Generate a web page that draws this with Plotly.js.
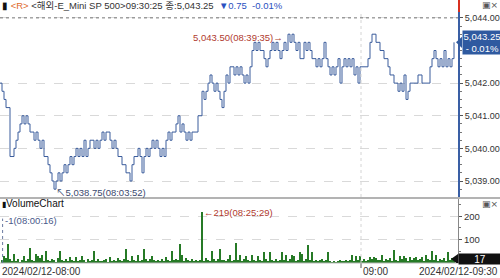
<!DOCTYPE html>
<html><head><meta charset="utf-8">
<script src="https://cdn.plot.ly/plotly-3.0.1.min.js"></script>
<style>html,body{margin:0;padding:0;background:#fff;}#chart{width:500px;height:278px;}</style>
</head><body><div id="chart"></div>
<script>
// ---- data ----
const price = [
5042.0,5041.75,5041.5,5041.25,5041.25,5039.75,5039.75,5040.0,5040.25,5040.5,
5040.75,5041.0,5040.75,5041.0,5040.75,5040.5,5040.5,5040.25,5040.5,5040.25,
5040.0,5040.25,5039.75,5039.75,5039.5,5039.25,5039.0,5038.75,5039.0,5039.25,
5039.0,5039.25,5039.5,5039.25,5039.5,5039.75,5039.5,5039.75,5040.0,5039.75,
5040.0,5039.75,5040.25,5039.75,5040.0,5040.25,5040.25,5040.0,5040.25,5040.0,
5040.25,5040.5,5040.25,5040.5,5040.5,5040.25,5040.0,5040.25,5040.0,5039.75,
5039.75,5039.5,5039.5,5039.25,5039.25,5039.0,5039.5,5039.75,5039.75,5040.0,
5039.75,5039.25,5039.75,5040.0,5039.75,5040.0,5040.25,5040.0,5040.25,5040.0,
5039.75,5040.0,5039.75,5040.25,5040.5,5040.25,5040.5,5040.5,5040.75,5041.0,
5040.5,5040.75,5040.5,5040.25,5040.5,5040.25,5040.5,5040.5,5040.5,5041.0,
5041.0,5041.75,5041.5,5041.75,5042.0,5042.25,5042.0,5041.75,5042.0,5041.75,
5041.5,5041.25,5041.75,5042.25,5042.0,5042.5,5042.5,5042.25,5042.5,5042.25,
5042.5,5042.25,5042.0,5042.25,5042.0,5042.5,5043.0,5043.25,5043.0,5043.25,
5043.0,5043.0,5042.75,5042.5,5042.75,5043.0,5043.25,5043.0,5043.25,5043.0,
5042.75,5043.0,5043.25,5043.0,5043.5,5043.25,5043.5,5043.25,5043.0,5043.25,
5042.75,5042.75,5043.25,5043.0,5043.25,5043.0,5042.75,5042.75,5042.5,5042.75,
5042.5,5042.75,5043.25,5042.75,5042.5,5042.25,5042.5,5042.25,5042.5,5042.75,
5042.0,5042.5,5042.75,5042.5,5042.75,5042.5,5042.75,5042.25,5042.5,5042.0,
5042.5,5042.5,5042.5,5042.5,5042.75,5043.25,5043.5,5043.5,5043.25,5043.25,
5043.0,5043.0,5042.75,5042.75,5042.5,5042.25,5042.25,5042.0,5042.0,5041.75,
5042.0,5041.75,5042.25,5041.5,5041.75,5042.0,5042.0,5042.0,5042.0,5042.25,
5042.25,5042.0,5042.0,5042.0,5042.0,5042.5,5042.75,5043.0,5042.75,5042.5,
5042.75,5042.5,5043.0,5042.5,5042.75,5042.5,5042.75,5043.25
];
const volume = [
1,12,30,20,83,15,8,37,10,18,6,14,30,9,16,65,12,7,40,30,
22,35,10,50,14,8,18,11,6,20,50,12,9,15,7,25,13,10,25,8,
14,30,11,6,17,9,12,50,8,15,10,7,13,18,6,25,10,14,8,20,
12,9,16,58,11,7,30,14,10,35,8,12,62,15,9,18,30,11,7,14,
10,16,8,25,12,9,50,14,18,11,83,35,10,20,13,7,15,9,12,8,
14,219,10,20,12,8,50,15,9,18,58,11,14,7,16,35,10,13,87,12,
35,9,15,30,11,8,35,14,10,30,12,7,45,16,9,48,13,10,18,8,
14,45,11,35,9,15,35,28,10,13,45,40,8,16,78,12,45,9,14,7,
11,16,8,13,45,10,6,9,5,8,11,7,10,12,8,14,35,9,28,12,
28,10,15,8,13,25,18,25,22,11,14,35,9,16,12,20,10,57,13,8,
30,15,30,22,10,25,14,20,25,12,18,25,9,35,15,11,53,13,35,10,
16,12,20,9,47,14,20,17
];
const priceTicks = [5039, 5040, 5041, 5042, 5044];
const volumeTicks = [100, 200];
const tickLabels = ["2024/02/12-08:00", "09:00", "2024/02/12-09:30"];
const tickIndex = [0, 180.5, 229];
const highLabel = "5,043.50(08:39:35)→";
const lowLabel = "↖5,038.75(08:03:52)";
const volMaxLabel = "←219(08:25:29)";
const volFirstLabel = "-1(08:00:16)";
const lastPrice = 5043.25;
const lastChangePct = "- 0.01%";
const headerParts = ["▮", "<R>", " <해외-E_Mini SP 500>09:30:25 종:5,043.25", "  ▼0.75  -0.01%"];

// ---- chart ----
const idx = price.map((_, i) => i);
const hiI = price.indexOf(Math.max(...price));
const loI = price.indexOf(Math.min(...price));
const vmI = volume.indexOf(Math.max(...volume));
const F = "Liberation Sans, Noto Sans CJK KR, sans-serif";
const plotW = 458;
const px = p => 1 + p / plotW; // paper x beyond right edge
const esc = s => s.replace(/</g, '&lt;').replace(/>/g, '&gt;');
const lastVol = volume[volume.length - 1];

const traces = [
  {type: 'scatter', mode: 'lines', x: idx, y: price, xaxis: 'x', yaxis: 'y',
   line: {color: '#3a5c9c', width: 1, shape: 'hv'}, hoverinfo: 'skip'},
  {type: 'bar', x: idx, y: volume, xaxis: 'x', yaxis: 'y2', width: 0.55,
   marker: {color: '#267a26', line: {width: 0}}, hoverinfo: 'skip'}
];

const layout = {
  width: 500, height: 278,
  margin: {l: 0, r: 42, t: 12, b: 15},
  paper_bgcolor: '#fff', plot_bgcolor: '#fff',
  showlegend: false, bargap: 0,
  font: {family: F, size: 10, color: '#333'},
  xaxis: {range: [0, 229], anchor: 'y2', showticklabels: false, showgrid: false,
          zeroline: false, showline: false, ticks: '', fixedrange: true},
  yaxis: {domain: [0.263, 1], range: [5038.51, 5044.18], side: 'right', anchor: 'x',
          tickvals: priceTicks, tickformat: ',.2f',
          ticks: 'outside', ticklen: 3, tickcolor: '#555', tickfont: {size: 9, color: '#333', family: F},
          showline: true, linecolor: '#3a5fa5', linewidth: 2,
          showgrid: true, gridcolor: '#d9d9d9', griddash: 'dash', gridwidth: 1, zeroline: false,
          minor: {dtick: 0.25, ticklen: 2, tickcolor: '#777', ticks: 'outside', showgrid: false}},
  yaxis2: {domain: [0, 0.255], range: [0, 274], side: 'right', anchor: 'x',
           tickvals: volumeTicks, ticks: 'outside', ticklen: 3, tickcolor: '#555',
           tickfont: {size: 9.5, color: '#333', family: F},
           showline: true, linecolor: '#888', linewidth: 1,
           showgrid: true, gridcolor: '#d9d9d9', griddash: 'dash', zeroline: false,
           minor: {dtick: 50, ticklen: 2, tickcolor: '#777', ticks: 'outside', showgrid: false}},
  shapes: [
    {type: 'line', xref: 'paper', yref: 'y', x0: 0, x1: 1, y0: 5044, y1: 5044,
     line: {color: '#777', width: 1, dash: 'dot'}},
    {type: 'line', xref: 'x', yref: 'paper', x0: tickIndex[1], x1: tickIndex[1], y0: 0, y1: 1,
     line: {color: '#d4d4d4', width: 1, dash: 'dot'}},
    {type: 'line', xref: 'x', yref: 'paper', x0: tickIndex[1], x1: tickIndex[1], y0: 0, y1: -0.02,
     line: {color: '#555', width: 1}},
    {type: 'line', xref: 'paper', yref: 'paper', x0: 0, x1: px(42), y0: 0.259, y1: 0.259,
     line: {color: '#9a9a9a', width: 1.5}},
    {type: 'line', xref: 'paper', yref: 'paper', x0: 0, x1: 1, y0: 0, y1: 0,
     line: {color: '#bbb', width: 1}},
    {type: 'line', xref: 'paper', yref: 'paper', x0: px(1), x1: px(1), y0: 1, y1: 1 + 12 / 251,
     line: {color: '#d83020', width: 2}},
    {type: 'line', xref: 'x', yref: 'y2', x0: 1.3, x1: 1.3, y0: 0, y1: 190,
     line: {color: '#6a7aa0', width: 1, dash: 'dot'}},
    {type: 'path', xref: 'paper', yref: 'y',
     path: `M ${px(-2)},${lastPrice} L ${px(4)},${lastPrice + 0.17} L ${px(4)},${lastPrice - 0.17} Z`,
     fillcolor: '#2f5aa0', line: {width: 0}},
    {type: 'path', xref: 'paper', yref: 'y2',
     path: `M ${px(-7)},${lastVol} L ${px(0)},${lastVol + 22} L ${px(0)},${lastVol - 22} Z`,
     fillcolor: '#111', line: {width: 0}}
  ],
  annotations: [
    {xref: 'paper', yref: 'paper', x: 0, y: 1 + 7 / 251, xanchor: 'left', yanchor: 'middle', showarrow: false,
     font: {size: 9.5, family: F, color: '#333'},
     text: `<span style="color:#111">${headerParts[0]}</span> <span style="color:#e06a2a">${esc(headerParts[1])}</span>${esc(headerParts[2])}<span style="color:#2a50c0">${headerParts[3]}</span>`},
    {xref: 'paper', yref: 'paper', x: px(42), y: 1 + 7 / 251, xanchor: 'right', yanchor: 'middle', showarrow: false,
     font: {size: 9, color: '#555', family: 'DejaVu Sans'}, text: '▣×'},
    {xref: 'paper', yref: 'paper', x: px(42), y: 0.235, xanchor: 'right', yanchor: 'middle', showarrow: false,
     font: {size: 9, color: '#555', family: 'DejaVu Sans'}, text: '▣×'},
    {xref: 'paper', yref: 'paper', x: 0, y: 0.237, xanchor: 'left', yanchor: 'middle', showarrow: false,
     font: {size: 10, color: '#111', family: F}, text: '<span style="font-size:8px">▮</span>VolumeChart'},
    {xref: 'x', yref: 'y', x: hiI, y: price[hiI], xanchor: 'right', yanchor: 'middle', xshift: -3, yshift: -3,
     showarrow: false, font: {size: 9.5, color: '#b03a2e', family: F}, text: highLabel},
    {xref: 'x', yref: 'y', x: loI, y: price[loI], xanchor: 'left', yanchor: 'middle', xshift: 0, yshift: -3,
     showarrow: false, font: {size: 9.5, color: '#3c4a6e', family: F}, text: lowLabel},
    {xref: 'x', yref: 'y2', x: vmI, y: volume[vmI], xanchor: 'left', yanchor: 'middle', xshift: 0, yshift: -1,
     showarrow: false, font: {size: 9.5, color: '#b03a2e', family: F}, text: volMaxLabel},
    {xref: 'x', yref: 'y2', x: 0, y: 184, xanchor: 'left', yanchor: 'middle', xshift: 3,
     showarrow: false, font: {size: 9.5, color: '#4a5a8a', family: F}, text: volFirstLabel},
    {xref: 'paper', yref: 'y', x: px(4), y: lastPrice, xanchor: 'left', yanchor: 'middle', showarrow: false,
     bgcolor: '#2f5aa0', width: 38, borderpad: 0, align: 'center',
     font: {size: 9.5, color: '#fff', family: F}, text: `${lastPrice.toLocaleString('en-US', {minimumFractionDigits: 2})}<br>${lastChangePct}`},
    {xref: 'paper', yref: 'y2', x: px(0), y: lastVol, xanchor: 'left', yanchor: 'middle', showarrow: false,
     bgcolor: '#111', width: 42, height: 10, borderpad: 0, align: 'center',
     font: {size: 10, color: '#fff', family: F}, text: String(lastVol)},
    {xref: 'x', yref: 'paper', x: tickIndex[0], y: 0, xanchor: 'left', yanchor: 'top', yshift: -1, showarrow: false,
     font: {size: 10, color: '#333', family: F}, text: tickLabels[0]},
    {xref: 'x', yref: 'paper', x: tickIndex[1], y: 0, xanchor: 'left', yanchor: 'top', yshift: -1, showarrow: false,
     font: {size: 10, color: '#333', family: F}, text: tickLabels[1]},
    {xref: 'paper', yref: 'paper', x: px(42), y: 0, xanchor: 'right', yanchor: 'top', yshift: -1, showarrow: false,
     font: {size: 10, color: '#333', family: F}, text: tickLabels[2]}
  ]
};

Plotly.newPlot('chart', traces, layout, {staticPlot: true, displayModeBar: false});
</script>
</body></html>
